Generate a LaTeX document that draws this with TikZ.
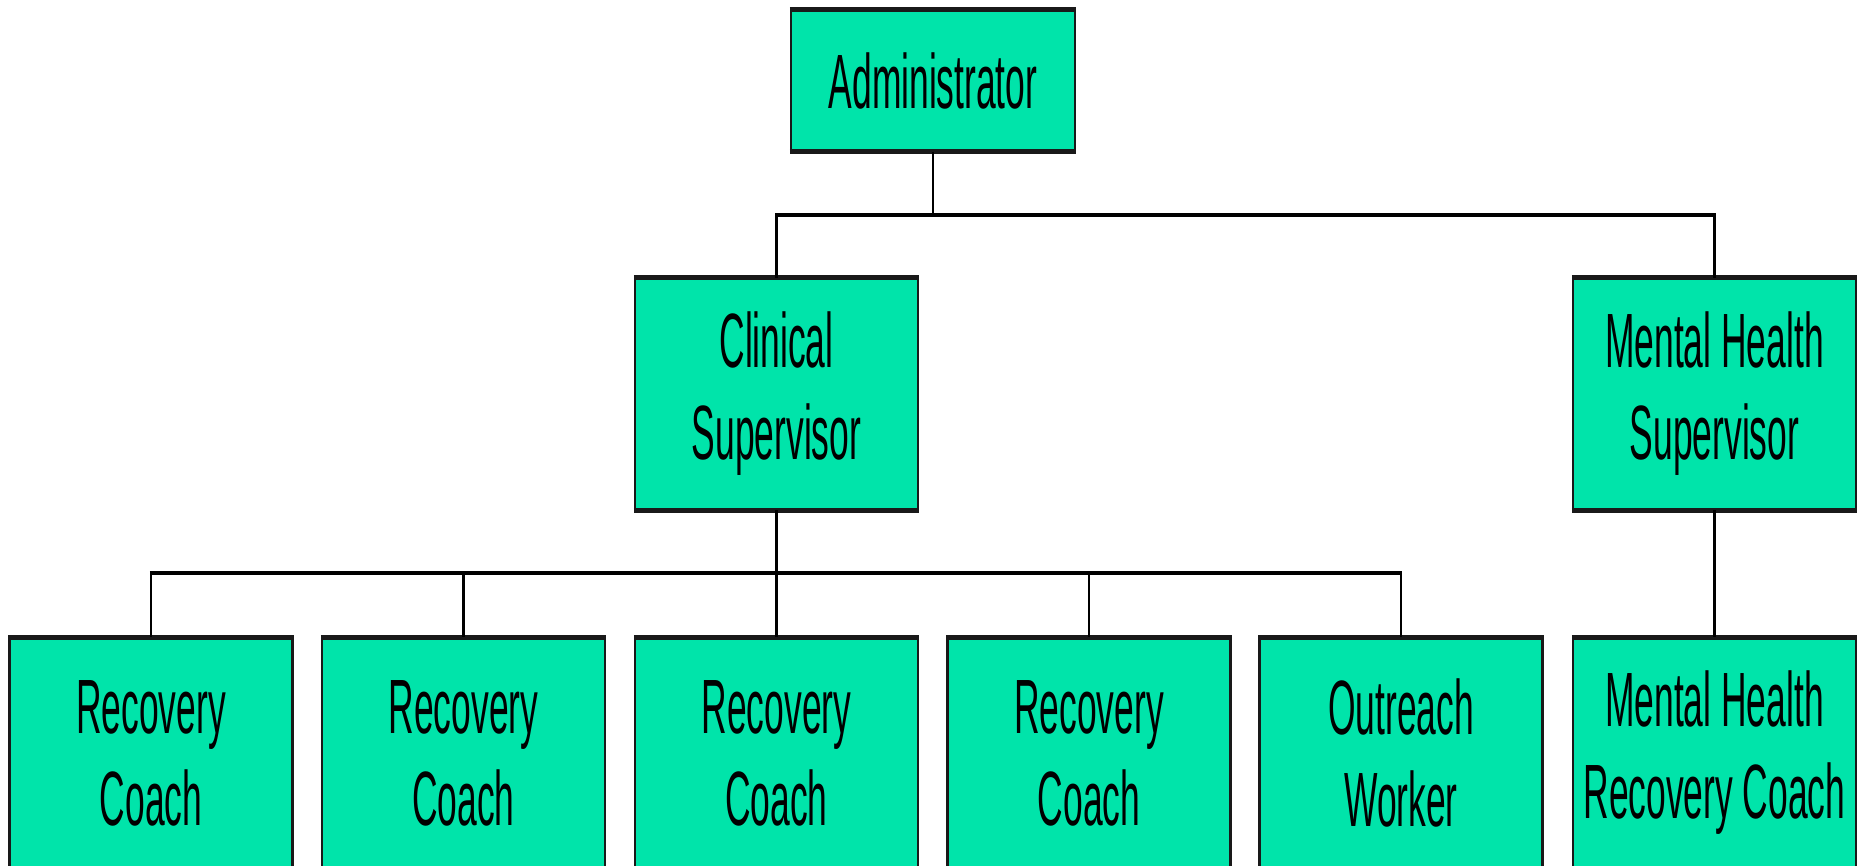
\documentclass[tikz,border=0pt]{standalone}
\usepackage{fontspec}
\setmainfont{Liberation Sans}[FakeStretch=0.46]
\definecolor{boxgreen}{HTML}{00E4AA}
\tikzset{
  orgbox/.style={draw=black!90, line width=2.5pt, fill=boxgreen, minimum width=283pt,
    minimum height=232pt, inner sep=0pt, outer sep=0pt, align=center,
    font=\fontsize{77}{92}\selectfont},
  toprule/.style={line width=5pt, black!90},
  link/.style={line width=2.5pt, black},
  bus/.style={line width=4.5pt, black},
}
\begin{document}
\begin{tikzpicture}[x=1pt,y=-1pt]
\useasboundingbox (0,0) rectangle (1863,866);
\clip (0,0) rectangle (1863,866);
\fill[white] (0,0) rectangle (1863,866);
\node[orgbox, minimum width=284pt, minimum height=142pt] (admin) at (933,81) {Administrator};
\node[orgbox] (cs) at (776.5,394) {Clinical\\Supervisor};
\node[orgbox] (mhs) at (1714.5,394) {Mental Health\\Supervisor};
\node[orgbox] (rc1) at (151,753) {Recovery\\Coach};
\node[orgbox] (rc2) at (463.5,753) {Recovery\\Coach};
\node[orgbox] (rc3) at (776.5,753) {Recovery\\Coach};
\node[orgbox] (rc4) at (1089,753) {Recovery\\Coach};
\node[orgbox] (ow) at (1401,753) {Outreach\\Worker};
\node[orgbox] (mhrc) at (1714.5,753) {Mental Health\\Recovery Coach};
\foreach \n in {admin,cs,mhs,rc1,rc2,rc3,rc4,ow,mhrc}{
  \draw[toprule] ([xshift=-1.25pt]\n.north west) -- ([xshift=1.25pt]\n.north east);
  \draw[toprule] ([xshift=-1.25pt]\n.south west) -- ([xshift=1.25pt]\n.south east);
}
\coordinate (b1) at (933,215);
\coordinate (b2) at (776.5,573);
\draw[link] (admin.south) -- (b1);
\draw[bus] ([xshift=-1.25pt]cs.north |- b1) -- ([xshift=1.25pt]mhs.north |- b1);
\draw[link] (cs.north |- b1) -- (cs.north);
\draw[link] (mhs.north |- b1) -- (mhs.north);
\draw[link] (cs.south) -- (rc3.north);
\draw[bus] ([xshift=-1.25pt]rc1.north |- b2) -- ([xshift=1.25pt]ow.north |- b2);
\foreach \n in {rc1,rc2,rc4,ow}{
  \draw[link] (\n.north |- b2) -- (\n.north);
}
\draw[link] (mhs.south) -- (mhrc.north);
\end{tikzpicture}
\end{document}
